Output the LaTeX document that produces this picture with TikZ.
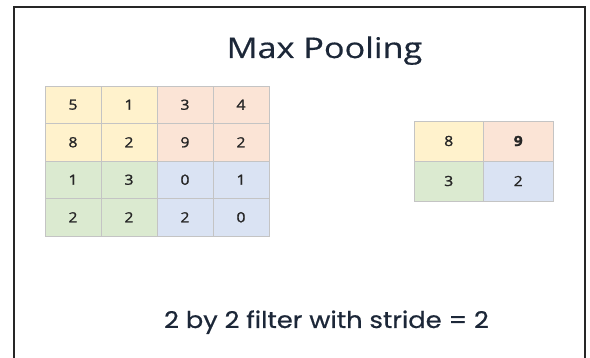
\documentclass[tikz,border=0pt]{standalone}
\usepackage{fontspec}
\setmainfont{Open Sans}
\newfontfamily\popfont[FakeStretch=1.12,FakeBold=0.6]{Poppins}
\newfontfamily\titfont[FakeStretch=1.2,FakeBold=0.5]{Open Sans}
\newfontfamily\digfont[FakeStretch=1.12,FakeBold=1.4]{Open Sans}
\definecolor{cyel}{HTML}{FFF2CC}
\definecolor{corg}{HTML}{FBE4D6}
\definecolor{cgrn}{HTML}{DBEAD0}
\definecolor{cblu}{HTML}{DAE3F3}
\definecolor{cgrid}{HTML}{C4C4C4}
\definecolor{ctext}{HTML}{262626}
\definecolor{ctitle}{HTML}{1C2738}
\begin{document}
\begin{tikzpicture}[x=1pt,y=-1pt,
  cell/.style={draw=cgrid, line width=0.8pt, minimum width=56pt, minimum height=37.5pt, inner sep=0pt, anchor=center, text=ctext, font=\digfont\fontsize{14}{14}\selectfont},
  ocell/.style={cell, minimum width=69.5pt, minimum height=40pt},
  title/.style={anchor=base, text=ctitle, font=\titfont\fontsize{28.5}{28.5}\selectfont},
  caption/.style={anchor=base, text=ctitle, font=\popfont\fontsize{23}{23}\selectfont}]
\useasboundingbox (0,0) rectangle (590,358);
\fill[white] (0,0) rectangle (590,358);
\draw[line width=2.5pt, black!85] (14,362) -- (14,7) -- (585,7) -- (585,362);
\node[title] (ttl) at (324.5,58) {Max Pooling};
% input grid
\foreach \r/\row in {1/{5,1,3,4},2/{8,2,9,2},3/{1,3,0,1},4/{2,2,2,0}}{
  \foreach \v [count=\c] in \row {
    \pgfmathtruncatemacro{\q}{(\r>2)*2+(\c>2)}
    \ifcase\q \def\fc{cyel}\or \def\fc{corg}\or \def\fc{cgrn}\else \def\fc{cblu}\fi
    \node[cell, fill=\fc] (in-\r-\c) at ({45+28+56*(\c-1)},{86+18.75+37.5*(\r-1)}) {\v};
  }
}
% output grid
\node[ocell, fill=cyel] (out-1-1) at (448.75,141) {8};
\node[ocell, fill=corg] (out-1-2) at (518.25,141) {\bfseries 9};
\node[ocell, fill=cgrn] (out-2-1) at (448.75,181) {3};
\node[ocell, fill=cblu] (out-2-2) at (518.25,181) {2};
\node[caption] (cap) at (326.5,328) {2 by 2 filter with stride = 2};
\end{tikzpicture}
\end{document}
